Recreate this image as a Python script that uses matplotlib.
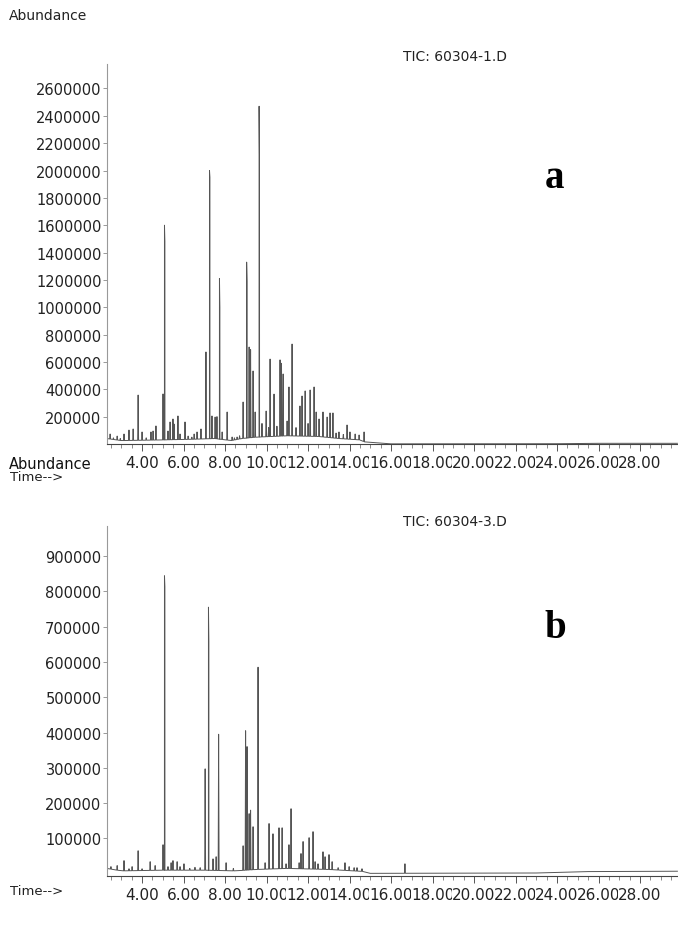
import numpy as np
import matplotlib
matplotlib.use("Agg")
import matplotlib.pyplot as plt
from matplotlib.ticker import MultipleLocator

# peaks: retention time (min), abundance
top_times = [2.46, 2.62, 2.80, 2.95, 3.13, 3.37, 3.57, 3.81, 4.00, 4.20,
             4.43, 4.53, 4.67, 5.01, 5.08, 5.10, 5.25, 5.35, 5.49, 5.54,
             5.73, 5.83, 6.07, 6.22, 6.40, 6.51, 6.65, 6.84, 7.08, 7.25,
             7.27, 7.37, 7.52, 7.61, 7.73, 7.75, 7.86, 8.10, 8.34, 8.45,
             8.58, 8.70, 8.87, 9.04, 9.06, 9.16, 9.23, 9.35, 9.45, 9.64,
             9.66, 9.78, 9.98, 10.10, 10.17, 10.36, 10.50, 10.65, 10.72, 10.80,
             10.99, 11.08, 11.23, 11.42, 11.61, 11.71, 11.86, 12.00, 12.10, 12.29,
             12.39, 12.53, 12.72, 12.92, 13.06, 13.20, 13.35, 13.49, 13.70, 13.88,
             14.02, 14.27, 14.46, 14.70]
top_heights = [73e3, 45e3, 58e3, 40e3, 73e3, 102e3, 110e3, 358e3, 88e3, 45e3,
               88e3, 95e3, 132e3, 366e3, 1600e3, 1480e3, 95e3, 161e3, 183e3, 146e3,
               205e3, 73e3, 161e3, 58e3, 50e3, 73e3, 88e3, 110e3, 673e3, 2000e3,
               1950e3, 205e3, 197e3, 200e3, 1210e3, 1000e3, 88e3, 234e3, 51e3, 45e3,
               51e3, 60e3, 307e3, 1330e3, 1190e3, 709e3, 690e3, 534e3, 234e3, 2470e3,
               2100e3, 150e3, 241e3, 120e3, 621e3, 365e3, 130e3, 615e3, 590e3, 512e3,
               168e3, 417e3, 731e3, 120e3, 278e3, 351e3, 388e3, 150e3, 395e3, 417e3,
               234e3, 183e3, 234e3, 197e3, 227e3, 227e3, 80e3, 88e3, 70e3, 139e3,
               88e3, 73e3, 66e3, 88e3]
top_base_t = [2.3, 3.0, 5.0, 6.5, 7.5, 8.3, 8.8, 9.5, 11.0, 12.5, 13.5, 14.5, 14.9, 16.0, 24.0, 26.0, 29.8]
top_base_v = [40e3, 25e3, 30e3, 35e3, 40e3, 25e3, 40e3, 50e3, 60e3, 55e3, 40e3, 30e3, 4e3, 1e3, 2e3, 5e3, 5e3]

bot_times = [2.50, 2.80, 3.13, 3.37, 3.52, 3.81, 4.00, 4.39, 4.63, 5.01,
             5.08, 5.10, 5.25, 5.40, 5.49, 5.69, 5.83, 6.02, 6.30, 6.55,
             6.80, 7.04, 7.20, 7.22, 7.42, 7.57, 7.69, 8.05, 8.40, 8.87,
             8.99, 9.06, 9.16, 9.23, 9.35, 9.59, 9.93, 10.12, 10.31, 10.60,
             10.75, 10.94, 11.08, 11.18, 11.57, 11.66, 11.76, 12.05, 12.24, 12.34,
             12.48, 12.72, 12.82, 13.01, 13.16, 13.45, 13.78, 13.98, 14.22, 14.36,
             14.60, 16.67]
bot_heights = [20e3, 23e3, 37e3, 14e3, 20e3, 65e3, 14e3, 34e3, 23e3, 82e3,
               844e3, 813e3, 20e3, 31e3, 37e3, 34e3, 20e3, 28e3, 15e3, 18e3,
               17e3, 297e3, 755e3, 657e3, 42e3, 48e3, 395e3, 31e3, 15e3, 79e3,
               405e3, 360e3, 170e3, 180e3, 133e3, 585e3, 31e3, 142e3, 113e3, 130e3,
               130e3, 28e3, 82e3, 184e3, 31e3, 57e3, 91e3, 102e3, 119e3, 34e3,
               28e3, 62e3, 48e3, 54e3, 34e3, 17e3, 31e3, 20e3, 17e3, 17e3,
               14e3, 28e3]
bot_base_t = [2.3, 3.0, 5.0, 7.0, 8.5, 9.5, 11.0, 13.0, 14.8, 15.0, 23.0, 25.5, 29.8]
bot_base_v = [15e3, 8e3, 10e3, 10e3, 8e3, 12e3, 15e3, 12e3, 6e3, 1e3, 2e3, 6e3, 7e3]

x_ticks = [4, 6, 8, 10, 12, 14, 16, 18, 20, 22, 24, 26, 28]
x_labels = ["%.2f" % t for t in x_ticks]
top_yticks = np.arange(200000, 2600001, 200000)
bot_yticks = np.arange(100000, 900001, 100000)

W, H = 678, 928


def trace(times, heights, base_t, base_v, w=0.022):
    # thin triangular peaks sitting on the baseline
    xs = [base_t[0]]
    ys = [base_v[0]]
    for t, h in sorted(zip(times, heights)):
        xs += [t - w, t, t + w]
        ys += [np.interp(t - w, base_t, base_v), h, np.interp(t + w, base_t, base_v)]
    xs += list(base_t[-4:])
    ys += list(base_v[-4:])
    order = np.argsort(xs, kind="stable")
    return np.array(xs)[order], np.array(ys)[order]


def setup(ax, yticks, ylim):
    ax.set_xlim(2.31, 29.83)
    ax.set_ylim(*ylim)
    for s in ["top", "right"]:
        ax.spines[s].set_visible(False)
    ax.spines["left"].set_color("#999999")
    ax.spines["left"].set_linewidth(0.8)
    ax.spines["bottom"].set_color("#444444")
    ax.spines["bottom"].set_linewidth(0.8)
    ax.set_xticks(x_ticks)
    ax.set_xticklabels(x_labels)
    ax.xaxis.set_minor_locator(MultipleLocator(0.5))
    ax.set_yticks(yticks)
    ax.set_yticklabels(["%d" % v for v in yticks])
    ax.tick_params(axis="x", which="major", length=5, width=0.7, color="#555555",
                   pad=3, labelsize=11, labelcolor="#222222")
    ax.tick_params(axis="x", which="minor", length=3, width=0.6, color="#777777")
    ax.tick_params(axis="y", which="major", length=3, width=0.7, color="#999999",
                   pad=1, labelsize=10.5, labelcolor="#222222")
    for lab in ax.get_xticklabels():
        lab.set_bbox(dict(facecolor="white", edgecolor="none", pad=0))
    ax.set_facecolor("none")


fig = plt.figure(figsize=(W / 100, H / 100), dpi=100)
ax1 = fig.add_axes([107 / W, 1 - 445 / H, 1 - 107 / W, (445 - 65) / H])
ax2 = fig.add_axes([107 / W, 1 - 877 / H, 1 - 107 / W, (877 - 527) / H])

x, y = trace(top_times, top_heights, top_base_t, top_base_v)
ax1.plot(x, y, color="#555555", lw=0.7)
setup(ax1, top_yticks, (0, 2.779e6))

x, y = trace(bot_times, bot_heights, bot_base_t, bot_base_v)
ax2.plot(x, y, color="#555555", lw=0.7)
setup(ax2, bot_yticks, (-6500, 0.985e6))

fig.text(9 / W, 1 - 16 / H, "Abundance", fontsize=10, va="center", color="#222222")
fig.text(455 / W, 1 - 57 / H, "TIC: 60304-1.D", fontsize=10, ha="center", va="center", color="#222222")
fig.text(555 / W, 1 - 178 / H, "a", fontsize=28, fontweight="bold", family="Liberation Serif",
         ha="center", va="center")
fig.text(9 / W, 1 - 465 / H, "Abundance", fontsize=10.5, va="center", color="#111111")
fig.text(10 / W, 1 - 478 / H, "Time-->", fontsize=9.5, va="center", color="#222222")
fig.text(455 / W, 1 - 522 / H, "TIC: 60304-3.D", fontsize=10, ha="center", va="center", color="#222222")
fig.text(555 / W, 1 - 628 / H, "b", fontsize=28, fontweight="bold", family="Liberation Serif",
         ha="center", va="center")
fig.text(10 / W, 1 - 892 / H, "Time-->", fontsize=9.5, va="center", color="#222222")

fig.savefig("out.png", dpi=100, facecolor="white")
